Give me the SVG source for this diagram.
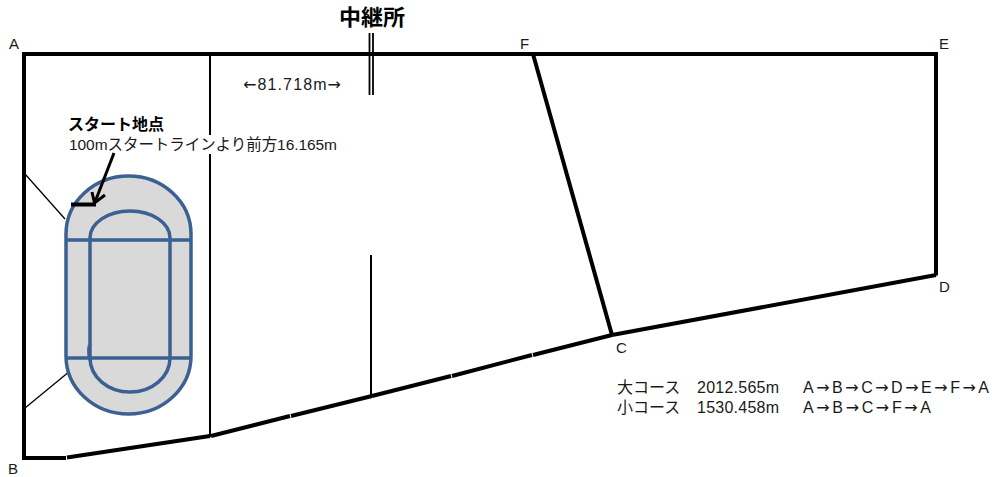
<svg xmlns="http://www.w3.org/2000/svg" width="992" height="477" viewBox="0 0 992 477">
<style>
text{font-family:"Liberation Sans","Noto Sans CJK JP",sans-serif;fill:#1a1a1a;font-size:16px}
.j{font-family:"DejaVu Sans",sans-serif}
.l{font-size:15px}
.h{font-weight:700;fill:#000}
.w{fill:none;stroke:#000;stroke-width:4}
.t{fill:none;stroke:#000;stroke-width:2}
.n{fill:none;stroke:#000;stroke-width:1.3}
.r{fill:none;stroke:#3a6191;stroke-width:3.5}
</style>
<rect width="992" height="477" fill="#fff"/>
<g id="connectors">
<path class="w" d="M24 458V54H936V275.500"/>
<path class="w" d="M936 275L612 335"/>
<path class="w" d="M533 54L612 335"/>
<path class="w" d="M612 335L533 355"/>
<path class="w" d="M532 355L452 376"/>
<path class="w" d="M451 376L372 396"/>
<path class="w" d="M372 396L291 416"/>
<path class="w" d="M290 416L211 436"/>
<path class="w" d="M210 436L67 457.500"/>
<path class="w" d="M22 458H66"/>
<path class="t" d="M210 55V437"/>
<path class="t" d="M371 255V396"/>
<path class="n" d="M25 174L65 219"/>
<path class="n" d="M25 408L70 371"/>
<path d="M369.500 33V95M373 33V95" stroke="#000" stroke-width="1.800" fill="none"/>
</g>
<g id="track">
<path class="r" style="fill:#d9d9d9" d="M66 240V234A62.500 58 0 0 1 191 234V356A62.500 58 0 0 1 66 356Z"/>
<path class="r" d="M66 240H191M66 358H191"/>
<path class="r" d="M90 240V238A40 27 0 0 1 170 238V358A40 34 0 0 1 90 358V240"/>
<path class="r" d="M89.500 345Q88 352 90 360" stroke-width="2.500"/>
</g>
<g id="start-point">
<rect x="66" y="135" width="272" height="19" fill="#fff"/>
<text class="h" x="68" y="130">スタート地点</text>
<text x="69" y="150" textLength="268" style="font-size:15.500px">100mスタートラインより前方16.165m</text>
<path d="M71 204.500H96" stroke="#000" stroke-width="4" fill="none"/>
<path d="M114 153L95 202" stroke="#000" stroke-width="3" fill="none"/>
<path d="M92 192L94.500 203L105 195" stroke="#000" stroke-width="3" fill="none"/>
</g>
<g id="relay">
<text class="h" x="339" y="25" style="font-size:22px">中継所</text>
<text x="243" y="90" textLength="98"><tspan class="j">←</tspan>81.718m<tspan class="j">→</tspan></text>
</g>
<g id="labels">
<text class="l" x="9" y="49">A</text>
<text class="l" x="8" y="474">B</text>
<text class="l" x="616" y="353">C</text>
<text class="l" x="939" y="292">D</text>
<text class="l" x="939" y="49">E</text>
<text class="l" x="520" y="49">F</text>
</g>
<g id="summary">
<text x="617" y="393">大コース</text>
<text x="697" y="393" textLength="82">2012.565m</text>
<text x="803" y="393" textLength="186">A<tspan class="j">→</tspan>B<tspan class="j">→</tspan>C<tspan class="j">→</tspan>D<tspan class="j">→</tspan>E<tspan class="j">→</tspan>F<tspan class="j">→</tspan>A</text>
<text x="617" y="413">小コース</text>
<text x="697" y="413" textLength="82">1530.458m</text>
<text x="803" y="413" textLength="128">A<tspan class="j">→</tspan>B<tspan class="j">→</tspan>C<tspan class="j">→</tspan>F<tspan class="j">→</tspan>A</text>
</g>
</svg>
